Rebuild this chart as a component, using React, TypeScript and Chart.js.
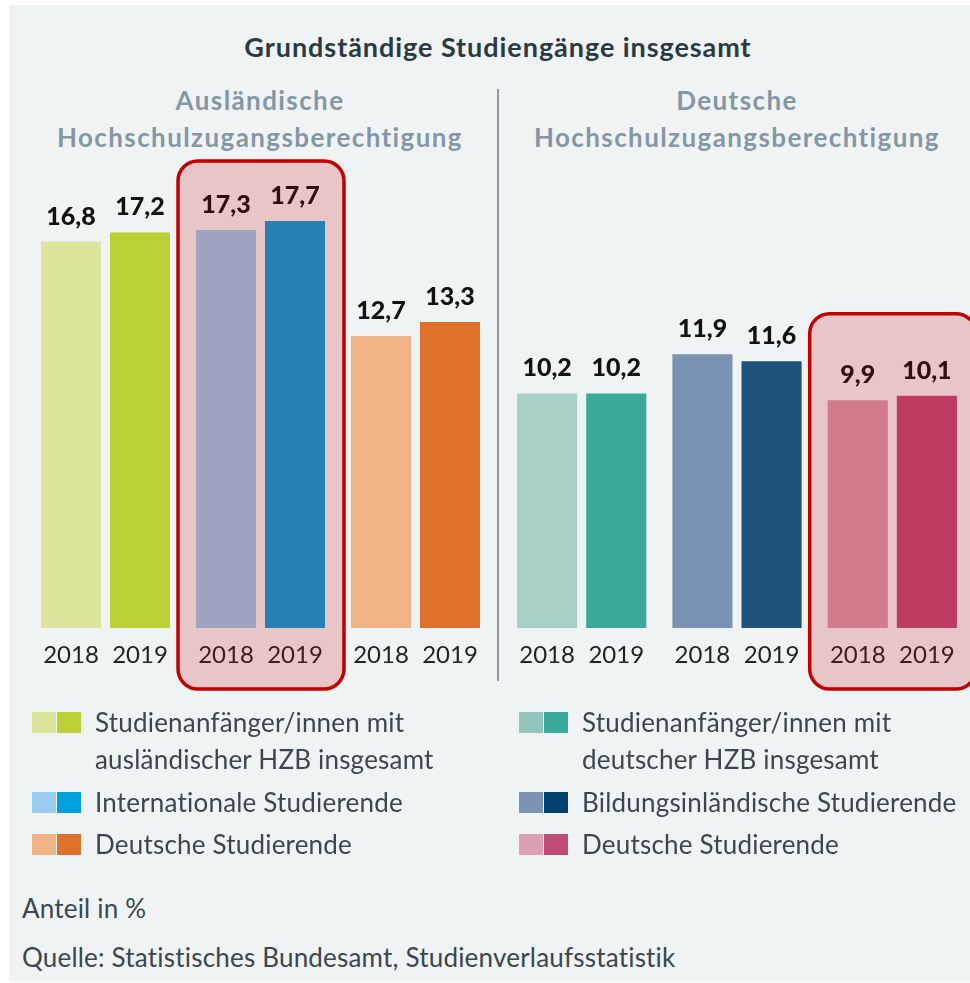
import React, { useEffect, useRef } from 'react';
import { Chart, registerables } from 'chart.js';

Chart.register(...registerables);

const FONT = 'Lato';

const YEARS = ['2018', '2019'];

const TITLE = 'Grundständige Studiengänge insgesamt';
const LEFT_SUBTITLE = ['Ausländische', 'Hochschulzugangsberechtigung'];
const RIGHT_SUBTITLE = ['Deutsche', 'Hochschulzugangsberechtigung'];

const LEFT_CATEGORIES = [
  'Studienanfänger/innen mit ausländischer HZB insgesamt',
  'Internationale Studierende',
  'Deutsche Studierende',
];
const LEFT_2018 = [16.8, 17.3, 12.7];
const LEFT_2019 = [17.2, 17.7, 13.3];

const RIGHT_CATEGORIES = [
  'Studienanfänger/innen mit deutscher HZB insgesamt',
  'Bildungsinländische Studierende',
  'Deutsche Studierende',
];
const RIGHT_2018 = [10.2, 11.9, 9.9];
const RIGHT_2019 = [10.2, 11.6, 10.1];

const LEFT_LEGEND_LABELS = [
  ['Studienanfänger/innen mit', 'ausländischer HZB insgesamt'],
  ['Internationale Studierende'],
  ['Deutsche Studierende'],
];
const RIGHT_LEGEND_LABELS = [
  ['Studienanfänger/innen mit', 'deutscher HZB insgesamt'],
  ['Bildungsinländische Studierende'],
  ['Deutsche Studierende'],
];

const NOTE_UNIT = 'Anteil in %';
const NOTE_SOURCE = 'Quelle: Statistisches Bundesamt, Studienverlaufsstatistik';

const LEFT_COLORS_2018 = ['#dce59b', '#97c9ed', '#f0b487'];
const LEFT_COLORS_2019 = ['#bcd136', '#029edd', '#e0712b'];
const RIGHT_COLORS_2018 = ['#a8d0c8', '#7b93b2', '#d698ad'];
const RIGHT_COLORS_2019 = ['#3caa9b', '#1e527b', '#bd4a75'];

const LEFT_LEGEND_COLORS = [
  ['#dbe69b', '#bcd136'],
  ['#9bcbee', '#00a0e0'],
  ['#f0b487', '#e0712b'],
];
const RIGHT_LEGEND_COLORS = [
  ['#92c6bb', '#3caa9b'],
  ['#7b93b2', '#00416e'],
  ['#dca0b4', '#c04a78'],
];

const fmt = (v: number) => v.toFixed(1).replace('.', ',');

type PanelProps = {
  left: number;
  width: number;
  categories: string[];
  d2018: number[];
  d2019: number[];
  c2018: string[];
  c2019: string[];
  highlight: number;
  boxTopOffset: number;
};

const CANVAS_TOP = 150;
const CANVAS_H = 560;

function Panel(props: PanelProps) {
  const ref = useRef<HTMLCanvasElement>(null);
  useEffect(() => {
    if (!ref.current) return;
    const labelPlugin = {
      id: 'barLabels',
      afterDatasetsDraw(chart: any) {
        const ctx = chart.ctx;
        chart.data.datasets.forEach((ds: any, di: number) => {
          const meta = chart.getDatasetMeta(di);
          meta.data.forEach((bar: any, i: number) => {
            ctx.save();
            ctx.textAlign = 'center';
            ctx.textBaseline = 'middle';
            ctx.font = `900 25px ${FONT}`;
            ctx.fillStyle = '#111111';
            ctx.fillText(fmt(ds.data[i]), bar.x, bar.y - 25);
            ctx.font = `24px ${FONT}`;
            ctx.fillStyle = '#222222';
            ctx.fillText(YEARS[di], bar.x, chart.chartArea.bottom + 27);
            ctx.restore();
          });
        });
      },
    };
    const highlightPlugin = {
      id: 'highlightBox',
      afterDraw(chart: any) {
        const ctx = chart.ctx;
        const b0 = chart.getDatasetMeta(0).data[props.highlight];
        const b1 = chart.getDatasetMeta(1).data[props.highlight];
        const x0 = b0.x - b0.width / 2 - 18;
        const x1 = b1.x + b1.width / 2 + 19;
        const y0 = Math.min(b0.y, b1.y) - props.boxTopOffset;
        const y1 = chart.chartArea.bottom + 61;
        ctx.save();
        ctx.beginPath();
        (ctx as any).roundRect(x0, y0, x1 - x0, y1 - y0, 20);
        ctx.fillStyle = 'rgba(198,0,0,0.19)';
        ctx.fill();
        ctx.lineWidth = 3.5;
        ctx.strokeStyle = '#c00000';
        ctx.stroke();
        ctx.restore();
      },
    };
    const chart = new Chart(ref.current, {
      type: 'bar',
      data: {
        labels: props.categories,
        datasets: [
          { label: YEARS[0], data: props.d2018, backgroundColor: props.c2018, borderWidth: 0 },
          { label: YEARS[1], data: props.d2019, backgroundColor: props.c2019, borderWidth: 0 },
        ],
      },
      options: {
        responsive: false,
        animation: false,
        devicePixelRatio: 1,
        layout: { padding: { top: 18, bottom: 82, left: 0, right: 0 } },
        datasets: { bar: { categoryPercentage: 0.89, barPercentage: 0.87 } },
        scales: {
          x: { display: false },
          y: { display: false, min: 0, max: 20 },
        },
        plugins: { legend: { display: false }, tooltip: { enabled: false } },
      },
      plugins: [labelPlugin, highlightPlugin],
    });
    return () => chart.destroy();
  }, []);
  return (
    <canvas
      ref={ref}
      width={props.width}
      height={CANVAS_H}
      style={{ position: 'absolute', left: props.left, top: CANVAS_TOP, width: props.width, height: CANVAS_H }}
    />
  );
}

function Text(p: { x: number; cy: number; children: any; style?: any; center?: boolean; w?: number }) {
  const lh = 32;
  const st: any = {
    position: 'absolute',
    top: p.cy - lh / 2,
    lineHeight: lh + 'px',
    height: lh,
    whiteSpace: 'nowrap',
    fontFamily: FONT,
    ...p.style,
  };
  if (p.center) {
    st.left = p.x - (p.w || 600) / 2;
    st.width = p.w || 600;
    st.textAlign = 'center';
  } else {
    st.left = p.x;
  }
  return <div style={st}>{p.children}</div>;
}

const BODY_STYLE = { fontSize: 26, letterSpacing: '0.2px', color: '#3a4650' };
const SUB_STYLE = { fontSize: 26, fontWeight: 'bold', letterSpacing: '1.4px', color: '#8497a4' };

function Legend(p: { x: number; labels: string[][]; colors: string[][] }) {
  const rows = [722, 802, 844];
  const out: any[] = [];
  p.labels.forEach((lines, i) => {
    const cy = rows[i];
    out.push(
      <div key={'s' + i} style={{ position: 'absolute', left: p.x, top: cy - 10, height: 21, width: 49, display: 'flex' }}>
        <div style={{ width: 24, height: 21, background: p.colors[i][0] }} />
        <div style={{ width: 1 }} />
        <div style={{ width: 24, height: 21, background: p.colors[i][1] }} />
      </div>
    );
    lines.forEach((ln, j) => {
      out.push(
        <Text key={'t' + i + '_' + j} x={p.x + 63} cy={cy + j * 37} style={BODY_STYLE}>
          {ln}
        </Text>
      );
    });
  });
  return <>{out}</>;
}

export default function App() {
  return (
    <div style={{ position: 'absolute', left: 0, top: 0, width: 970, height: 983, background: '#ffffff', overflow: 'hidden' }}>
      <div style={{ position: 'absolute', left: 9, top: 5, width: 961, height: 977, background: '#f0f3f4' }} />
      <Text x={498} cy={47} center w={760} style={{ fontSize: 27, fontWeight: 'bold', letterSpacing: '0.95px', color: '#2a3a44' }}>
        {TITLE}
      </Text>
      <Text x={260} cy={100} center w={480} style={SUB_STYLE}>
        {LEFT_SUBTITLE[0]}
      </Text>
      <Text x={260} cy={137} center w={480} style={SUB_STYLE}>
        {LEFT_SUBTITLE[1]}
      </Text>
      <Text x={737} cy={100} center w={480} style={SUB_STYLE}>
        {RIGHT_SUBTITLE[0]}
      </Text>
      <Text x={737} cy={137} center w={480} style={SUB_STYLE}>
        {RIGHT_SUBTITLE[1]}
      </Text>
      <div style={{ position: 'absolute', left: 497, top: 89, width: 2, height: 592, background: '#8a9ba7' }} />
      <Panel
        left={28}
        width={465}
        categories={LEFT_CATEGORIES}
        d2018={LEFT_2018}
        d2019={LEFT_2019}
        c2018={LEFT_COLORS_2018}
        c2019={LEFT_COLORS_2019}
        highlight={1}
        boxTopOffset={60}
      />
      <Panel
        left={504}
        width={466}
        categories={RIGHT_CATEGORIES}
        d2018={RIGHT_2018}
        d2019={RIGHT_2019}
        c2018={RIGHT_COLORS_2018}
        c2019={RIGHT_COLORS_2019}
        highlight={2}
        boxTopOffset={82}
      />
      <Legend x={32} labels={LEFT_LEGEND_LABELS} colors={LEFT_LEGEND_COLORS} />
      <Legend x={519} labels={RIGHT_LEGEND_LABELS} colors={RIGHT_LEGEND_COLORS} />
      <Text x={22} cy={908} style={BODY_STYLE}>
        {NOTE_UNIT}
      </Text>
      <Text x={22} cy={957} style={BODY_STYLE}>
        {NOTE_SOURCE}
      </Text>
    </div>
  );
}
